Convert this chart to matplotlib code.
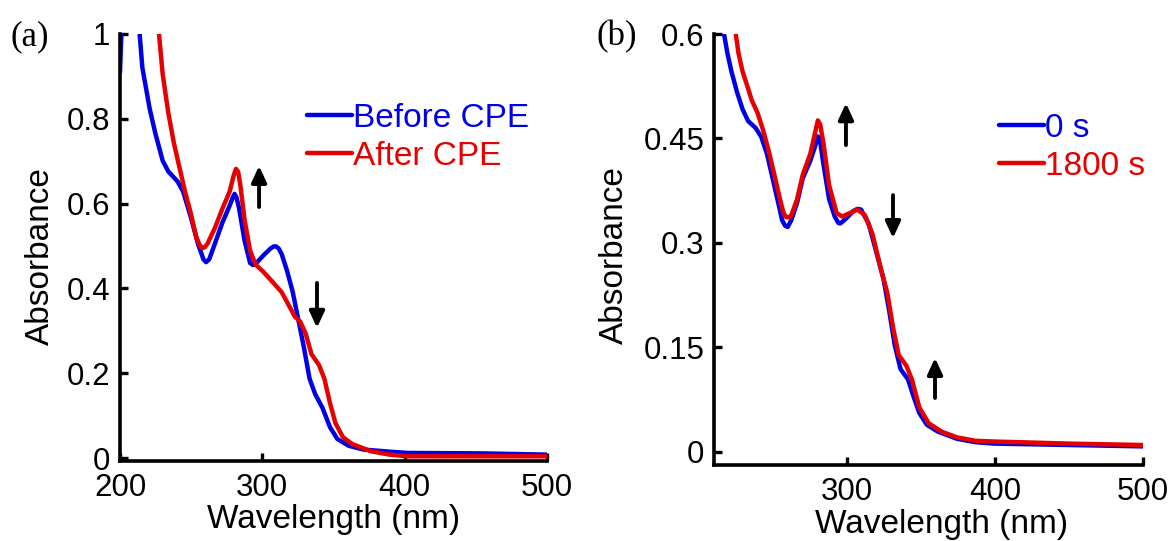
import matplotlib
matplotlib.use("Agg")
import matplotlib.pyplot as plt

plt.rcParams['font.family'] = ['Liberation Sans', 'DejaVu Sans']

# ---- Panel (a): before / after CPE ----
wl_a_before = [200, 201.5, 203, 210, 213.8, 215.7, 218.3, 220.9, 224.8, 230, 233.9, 240.5, 244.4, 249.6,
               254.8, 258.7, 260.5, 262.7, 266.6, 271.8, 277, 279.2, 280.5, 281.8, 283.6, 287.5,
               291.4, 293.5, 295.3, 300.5, 305.7, 308, 309.7, 311.5, 313.6, 317.5, 321.4, 325.3,
               329.2, 333.2, 337.1, 342.3, 347.5, 352.7, 360.6, 371, 389.3, 402.3, 454.6, 500]
abs_a_before = [0.91, 1.05, 1.2, 1.3, 1.0, 0.921, 0.872, 0.823, 0.766, 0.701, 0.676, 0.652, 0.628, 0.570,
                0.505, 0.468, 0.462, 0.469, 0.505, 0.554, 0.595, 0.614, 0.623, 0.615, 0.590, 0.513,
                0.460, 0.455, 0.458, 0.477, 0.494, 0.499, 0.499, 0.494, 0.481, 0.440, 0.391, 0.326,
                0.261, 0.187, 0.151, 0.118, 0.073, 0.045, 0.029, 0.020, 0.015, 0.012, 0.011, 0.008]

wl_a_after = [225, 227.4, 230, 233.9, 237.9, 241.8, 245.7, 249.6, 253.5, 256, 257.8, 259.5, 261.4,
              266.6, 271.8, 277, 280, 281.5, 283, 284.5, 287.5, 291.4, 295.3, 300.5, 307, 313.6,
              318.8, 322.7, 326.6, 330.5, 334.5, 339.7, 343.6, 347.5, 351.4, 356.7, 363.2, 376.2,
              389.3, 402.3, 454.6, 500]
abs_a_after = [1.2, 1.0, 0.905, 0.815, 0.742, 0.685, 0.628, 0.579, 0.522, 0.502, 0.495, 0.497, 0.505,
               0.542, 0.587, 0.628, 0.668, 0.682, 0.675, 0.645, 0.562, 0.489, 0.456, 0.440, 0.416,
               0.391, 0.359, 0.334, 0.322, 0.293, 0.245, 0.220, 0.187, 0.130, 0.082, 0.049, 0.033,
               0.016, 0.008, 0.004, 0.004, 0.004]

# ---- Panel (b): 0 s / 1800 s ----
wl_b_0 = [214, 216.6, 219.1, 221.7, 225.5, 229.3, 233.1, 238.2, 242, 245.8, 249.6, 253.4, 256,
          258, 259.8, 262.3, 266.2, 270, 275.1, 278.5, 280.2, 281.8, 284, 287.8, 291.6, 294,
          295.4, 299.2, 304.3, 307, 309.4, 314.5, 319.6, 324.6, 328.4, 332.2, 336.1, 341.2, 345,
          348.8, 353.9, 361.5, 374.2, 386.9, 399.6, 450.4, 500]
abs_b_0 = [0.7, 0.602, 0.572, 0.547, 0.517, 0.492, 0.475, 0.465, 0.452, 0.428, 0.393, 0.358, 0.333,
           0.325, 0.323, 0.333, 0.358, 0.393, 0.418, 0.440, 0.453, 0.445, 0.413, 0.363, 0.338,
           0.329, 0.328, 0.335, 0.346, 0.349, 0.348, 0.328, 0.288, 0.248, 0.203, 0.153, 0.119,
           0.104, 0.079, 0.056, 0.039, 0.029, 0.019, 0.014, 0.012, 0.010, 0.008]

wl_b_1800 = [222, 224.6, 226.6, 229.2, 233, 235.5, 239.4, 243.2, 247, 250.8, 254.6, 257, 258.8,
             260.5, 262.3, 266.2, 270, 275.1, 278.5, 280.2, 281.8, 284, 287.8, 292.9, 296.7,
             301.8, 306.9, 312, 317.1, 322.2, 327.2, 331.1, 334.9, 340, 343.8, 348.8, 355.2,
             364.1, 374.2, 386.9, 399.6, 450.4, 500]
abs_b_1800 = [0.7, 0.602, 0.572, 0.547, 0.522, 0.505, 0.487, 0.462, 0.432, 0.398, 0.363, 0.343, 0.337,
              0.337, 0.340, 0.363, 0.398, 0.428, 0.460, 0.476, 0.470, 0.443, 0.383, 0.343, 0.338,
              0.343, 0.348, 0.340, 0.313, 0.268, 0.228, 0.178, 0.139, 0.124, 0.104, 0.064, 0.041,
              0.029, 0.021, 0.016, 0.015, 0.012, 0.010]

labels_a = ["Before CPE", "After CPE"]
labels_b = ["0 s", "1800 s"]

yticks_a = [0, 0.2, 0.4, 0.6, 0.8, 1.0]
yticklabels_a = ["0", "0.2", "0.4", "0.6", "0.8", "1"]
yticks_b = [0, 0.15, 0.3, 0.45, 0.6]
yticklabels_b = ["0", "0.15", "0.3", "0.45", "0.6"]
xticks_a = [200, 300, 400, 500]
xticks_b = [300, 400, 500]

# arrows: (x, y_tail, y_head)
arrows_a = [(297.7, 0.592, 0.689), (338.4, 0.413, 0.307)]
arrows_b = [(299.2, 0.4405, 0.5007), (331.0, 0.3687, 0.307), (359.4, 0.0775, 0.135)]

BLUE = "#0000e6"
RED = "#e60000"
LW = 3.2
W, H = 1173, 541
fig = plt.figure(figsize=(W / 100, H / 100), dpi=100)

def px_axes(l, r, t, b):
    return fig.add_axes([l / W, (H - b) / H, (r - l) / W, (b - t) / H])

ax_a = px_axes(120, 547, 34, 461)
ax_b = px_axes(714, 1143, 34, 465)

TICK_FS = 22.5
LABEL_FS = 24

def style(ax, xlim, ylim, xt, yt, ytl):
    ax.set_xlim(*xlim)
    ax.set_ylim(*ylim)
    ax.set_xticks(xt)
    ax.set_xticklabels([str(v) for v in xt])
    ax.set_yticks(yt)
    ax.set_yticklabels(ytl)
    for s in ("top", "right"):
        ax.spines[s].set_visible(False)
    for s in ("left", "bottom"):
        ax.spines[s].set_linewidth(2.6)
        ax.spines[s].set_capstyle("projecting")
    ax.tick_params(direction="in", length=6, width=2.4, labelsize=TICK_FS, pad=7, color="black")
    ax.tick_params(axis="x", pad=9)
    ax.set_xlabel("Wavelength (nm)", fontsize=LABEL_FS)
    ax.set_ylabel("Absorbance", fontsize=LABEL_FS)

def add_arrows(ax, arrows):
    for x, y0, y1 in arrows:
        ax.annotate("", xy=(x, y1), xytext=(x, y0),
                    arrowprops=dict(arrowstyle="-|>,head_width=0.3,head_length=0.65",
                                    mutation_scale=15, lw=2.8, color="black",
                                    shrinkA=0, shrinkB=0))

def draw(ax, x, y, color, label):
    ax.plot(x, y, color=color, lw=LW, label=label,
            solid_joinstyle="round", solid_capstyle="round")

# Panel (a)
draw(ax_a, wl_a_before, abs_a_before, BLUE, labels_a[0])
draw(ax_a, wl_a_after, abs_a_after, RED, labels_a[1])
style(ax_a, (200, 500), (-0.007, 1.0), xticks_a, yticks_a, yticklabels_a)
add_arrows(ax_a, arrows_a)
ax_a.yaxis.set_label_coords(-0.187, 0.48)
ax_a.xaxis.set_label_coords(0.499, -0.138)
ax_a.legend(loc="upper left", bbox_to_anchor=((307 - 120) / 427, (461 - 103) / 427),
            frameon=False, fontsize=LABEL_FS, handlelength=1.35, handletextpad=0.03,
            borderpad=0, borderaxespad=0, labelspacing=0.2, labelcolor="linecolor")

# Panel (b)
draw(ax_b, wl_b_0, abs_b_0, BLUE, labels_b[0])
draw(ax_b, wl_b_1800, abs_b_1800, RED, labels_b[1])
style(ax_b, (210, 500), (-0.0187, 0.6), xticks_b, yticks_b, yticklabels_b)
add_arrows(ax_b, arrows_b)
ax_b.yaxis.set_label_coords(-0.231, 0.487)
ax_b.xaxis.set_label_coords(0.53, -0.139)
ax_b.legend(loc="upper left", bbox_to_anchor=((999 - 714) / 429, (465 - 113) / 431),
            frameon=False, fontsize=LABEL_FS, handlelength=1.35, handletextpad=0.03,
            borderpad=0, borderaxespad=0, labelspacing=0.2, labelcolor="linecolor")

for ax in (ax_a, ax_b):
    ax.xaxis.label.set_va("center")
    ax.yaxis.label.set_va("center")

fig.text(10 / W, 1 - 37 / H, "(a)", fontsize=25, family=["Liberation Serif", "DejaVu Serif"], va="center")
fig.text(597 / W, 1 - 37 / H, "(b)", fontsize=25, family=["Liberation Serif", "DejaVu Serif"], va="center")

fig.savefig("out.png", dpi=100)
